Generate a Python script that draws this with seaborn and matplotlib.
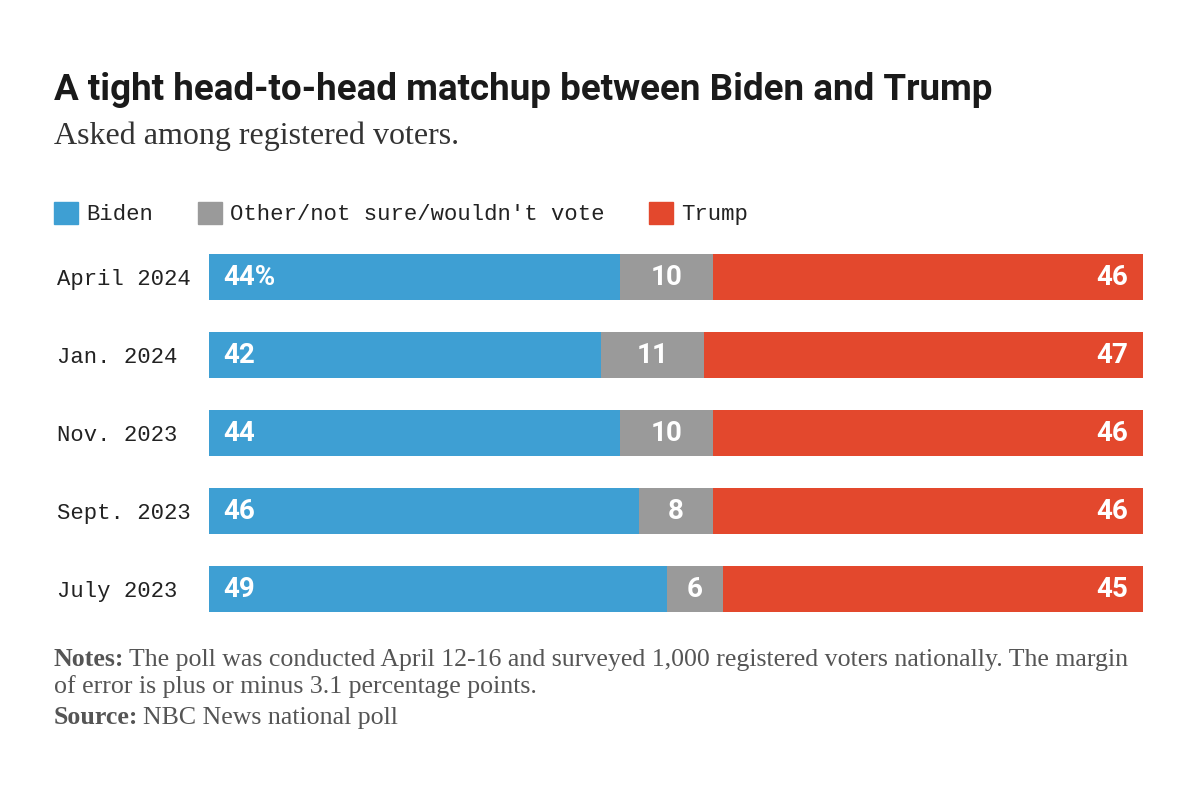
import pandas as pd
import matplotlib
matplotlib.use('Agg')
import matplotlib.pyplot as plt
import matplotlib.patches as mpatches
import seaborn as sns

# ── data ──────────────────────────────────────────────────────────────
polls = ['April 2024', 'Jan. 2024', 'Nov. 2023', 'Sept. 2023', 'July 2023']
biden = [44, 42, 44, 46, 49]
other = [10, 11, 10, 8, 6]
trump = [46, 47, 46, 46, 45]
series = ['Biden', "Other/not sure/wouldn't vote", 'Trump']

BLUE, GRAY, RED = '#3E9FD3', '#9A9A9A', '#E3482D'
MONO = ['Liberation Mono', 'DejaVu Sans Mono']
SANS = ['Roboto', 'DejaVu Sans']
SERIF = ['Liberation Serif', 'DejaVu Serif']

df = pd.DataFrame({'poll': polls, 'biden': biden, 'other': other, 'trump': trump})
df['b_o'] = df['biden'] + df['other']
df['total'] = df['b_o'] + df['trump']

sns.set_style('white')

fig = plt.figure(figsize=(12, 7.95), dpi=100)
ax = fig.add_axes([0.1742, 0.210, 0.7783, 0.4906])

# stacked bars: draw cumulative totals back to front
for col, color in [('total', RED), ('b_o', GRAY), ('biden', BLUE)]:
    sns.barplot(data=df, y='poll', x=col, orient='h', color=color,
                width=0.59, linewidth=0, saturation=1, ax=ax)

ax.set_xlim(0, 100)
ax.set_ylim(4.5, -0.5)
ax.set_xlabel('')
ax.set_ylabel('')
ax.set_xticks([])
sns.despine(ax=ax, left=True, bottom=True)
ax.tick_params(axis='y', length=0, pad=109.5)
for lab in ax.get_yticklabels():
    lab.set_family(MONO)
    lab.set_fontsize(16)
    lab.set_color('#222222')
    lab.set_horizontalalignment('left')

# value labels
for i, row in df.iterrows():
    kw = dict(va='center', color='white', fontsize=20, fontweight='bold', family=SANS)
    ax.text(1.5, i, f"{row['biden']}%" if i == 0 else f"{row['biden']}", ha='left', **kw)
    ax.text(row['biden'] + row['other'] / 2, i, f"{row['other']}", ha='center', **kw)
    ax.text(row['total'] - 1.6, i, f"{row['trump']}", ha='right', **kw)

# legend
handles = [mpatches.Patch(color=c, label=s) for c, s in zip([BLUE, GRAY, RED], series)]
leg = fig.legend(handles=handles, loc='center left', bbox_to_anchor=(0.045, 0.731),
                 ncol=3, frameon=False, handlelength=1.1, handleheight=1.1,
                 handletextpad=0.35, columnspacing=2.0, borderaxespad=0,
                 borderpad=0, prop={'family': MONO, 'size': 16.0})
for t in leg.get_texts():
    t.set_color('#222222')

# titles
fig.text(0.045, 0.887, 'A tight head-to-head matchup between Biden and Trump',
         family=SANS, fontweight='bold', fontsize=26.5, color='#1a1a1a', va='center')
fig.text(0.045, 0.828, 'Asked among registered voters.', family=SERIF,
         fontsize=23, color='#333333', va='center')

# notes
NOTE = '#555555'
FS = 18.6
t1 = fig.text(0.045, 0.170, 'Notes:', family=SERIF, fontweight='bold',
              fontsize=FS, color=NOTE, va='center')
fig.canvas.draw()
bb = t1.get_window_extent()
fig.text(bb.x1 / fig.bbox.width + 0.004, 0.170,
         'The poll was conducted April 12-16 and surveyed 1,000 registered voters nationally. The margin',
         family=SERIF, fontsize=FS, color=NOTE, va='center')
fig.text(0.045, 0.137, 'of error is plus or minus 3.1 percentage points.',
         family=SERIF, fontsize=FS, color=NOTE, va='center')
t2 = fig.text(0.045, 0.097, 'Source:', family=SERIF, fontweight='bold',
              fontsize=FS, color=NOTE, va='center')
fig.canvas.draw()
bb = t2.get_window_extent()
fig.text(bb.x1 / fig.bbox.width + 0.004, 0.097, 'NBC News national poll',
         family=SERIF, fontsize=FS, color=NOTE, va='center')

plt.savefig('out.png', dpi=100, facecolor='white')
plt.close()
